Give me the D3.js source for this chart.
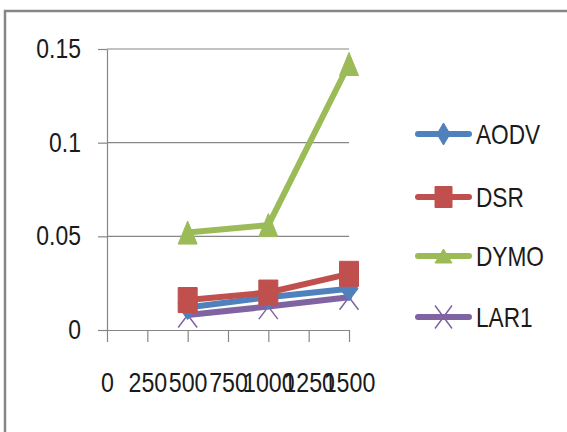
<!DOCTYPE html>
<html><head><meta charset="utf-8">
<script src="https://cdn.jsdelivr.net/npm/d3@7"></script>
<style>body{margin:0;background:#fff;overflow:hidden}</style></head>
<body><svg id="c" width="567" height="432"></svg>
<script>
const xValues = [500, 1000, 1500];
const seriesNames = ["AODV", "DSR", "DYMO", "LAR1"];
const aodv = [0.012, 0.0175, 0.022];
const dsr = [0.016, 0.020, 0.030];
const dymo = [0.052, 0.056, 0.142];
const lar1 = [0.008, 0.0125, 0.0175];
const xTicks = [0, 250, 500, 750, 1000, 1250, 1500];
const yTicks = [0, 0.05, 0.1, 0.15];
const yTickLabels = ["0", "0.05", "0.1", "0.15"];
const colors = ["#4F81BD", "#C0504D", "#9BBB59", "#8064A2"];
const markers = ["diamond", "square", "triangle", "x"];

const seriesValues = [aodv, dsr, dymo, lar1];
const series = seriesNames.map((n, i) => ({
  name: n, color: colors[i], marker: markers[i],
  points: xValues.map((x, j) => ({x, y: seriesValues[i][j]}))
}));

const svg = d3.select("#c");
const FONT = "'Liberation Sans', Arial, sans-serif";
const AX = "#868686";

// outer frame
svg.append("rect").attr("x", 5).attr("y", 11).attr("width", 700).attr("height", 600)
  .attr("fill", "none").attr("stroke", AX).attr("stroke-width", 2.5);

const x = d3.scaleLinear().domain([0, 1500]).range([107, 349]);
const y = d3.scaleLinear().domain([0, 0.15]).range([330, 49]);

function squeeze(sel, k) {
  sel.each(function () {
    const t = d3.select(this);
    const tx = +t.attr("x") || 0;
    t.attr("transform", `translate(${tx * (1 - k)},0) scale(${k},1)`);
  });
}

// gridlines
svg.append("g").selectAll("line").data(yTicks.filter(v => v > 0)).join("line")
  .attr("x1", x(0)).attr("x2", x(1500))
  .attr("y1", d => y(d)).attr("y2", d => y(d))
  .attr("stroke", AX).attr("stroke-width", 1.2);

// y axis
const yAxis = svg.append("g").attr("transform", `translate(${x(0)},0)`)
  .call(d3.axisLeft(y).tickValues(yTicks).tickFormat((d, i) => yTickLabels[i])
    .tickSize(9).tickSizeOuter(0).tickPadding(17));
yAxis.selectAll("path, line").attr("stroke", AX).attr("stroke-width", 1.2);
yAxis.selectAll("text").attr("font-family", FONT).attr("font-size", 27).attr("fill", "#1a1a1a");
squeeze(yAxis.selectAll("text"), 0.85);

// x axis
const xAxis = svg.append("g").attr("transform", `translate(0,${y(0)})`)
  .call(d3.axisBottom(x).tickValues(xTicks).tickFormat(d3.format("d"))
    .tickSize(12).tickSizeOuter(0).tickPadding(31));
xAxis.selectAll("path, line").attr("stroke", AX).attr("stroke-width", 1.2);
xAxis.selectAll("text").attr("font-family", FONT).attr("font-size", 27).attr("fill", "#1a1a1a");
xAxis.selectAll(".tick text").each(function () {
  d3.select(this).attr("transform", "scale(0.86,1)");
});

// marker path generator
function markerPath(type, w, h) {
  const a = w / 2, b = h / 2;
  if (type === "diamond") return `M0,${-b}L${a},0L0,${b}L${-a},0Z`;
  if (type === "square") return `M${-a},${-b}H${a}V${b}H${-a}Z`;
  if (type === "triangle") return `M0,${-b}L${a},${b}L${-a},${b}Z`;
  return `M${-a},${-b}L${a},${b}M${a},${-b}L${-a},${b}`;
}
function drawMarker(g, s, w, h) {
  const p = g.append("path").attr("d", markerPath(s.marker, w, h));
  if (s.marker === "x") p.attr("fill", "none").attr("stroke", s.color).attr("stroke-width", 1.5);
  else p.attr("fill", s.color).attr("stroke", s.color).attr("stroke-width", 1);
}

const line = d3.line().x(d => x(d.x)).y(d => y(d.y));
const drawOrder = [2, 3, 0, 1];
drawOrder.forEach(i => {
  const s = series[i];
  svg.append("path").datum(s.points).attr("d", line)
    .attr("fill", "none").attr("stroke", s.color).attr("stroke-width", 6)
    .attr("stroke-linejoin", "round").attr("stroke-linecap", "round");
});
drawOrder.forEach(i => {
  const s = series[i];
  s.points.forEach(p => {
    const g = svg.append("g").attr("transform", `translate(${x(p.x)},${y(p.y)})`);
    const sz = {diamond: [18, 24], square: [19, 25], triangle: [19, 23], x: [19, 25]}[s.marker];
    drawMarker(g, s, sz[0], sz[1]);
  });
});

// legend
const legendY = [134, 197, 256, 317];
series.forEach((s, i) => {
  const g = svg.append("g").attr("transform", `translate(0,${legendY[i]})`);
  g.append("line").attr("x1", 418).attr("x2", 469).attr("y1", 0).attr("y2", 0)
    .attr("stroke", s.color).attr("stroke-width", 6).attr("stroke-linecap", "round");
  const lg = g.append("g").attr("transform", "translate(443.5,0)");
  const sz = {diamond: [13, 22], square: [17, 21], triangle: [17, 14], x: [17, 23]}[s.marker];
  drawMarker(lg, s, sz[0], sz[1]);
  const t = g.append("text").attr("x", 476).attr("y", 0).attr("dy", "0.36em")
    .attr("font-family", FONT).attr("font-size", 27).attr("fill", "#1a1a1a").text(s.name);
  squeeze(t, 0.84);
});
</script>
</body></html>
